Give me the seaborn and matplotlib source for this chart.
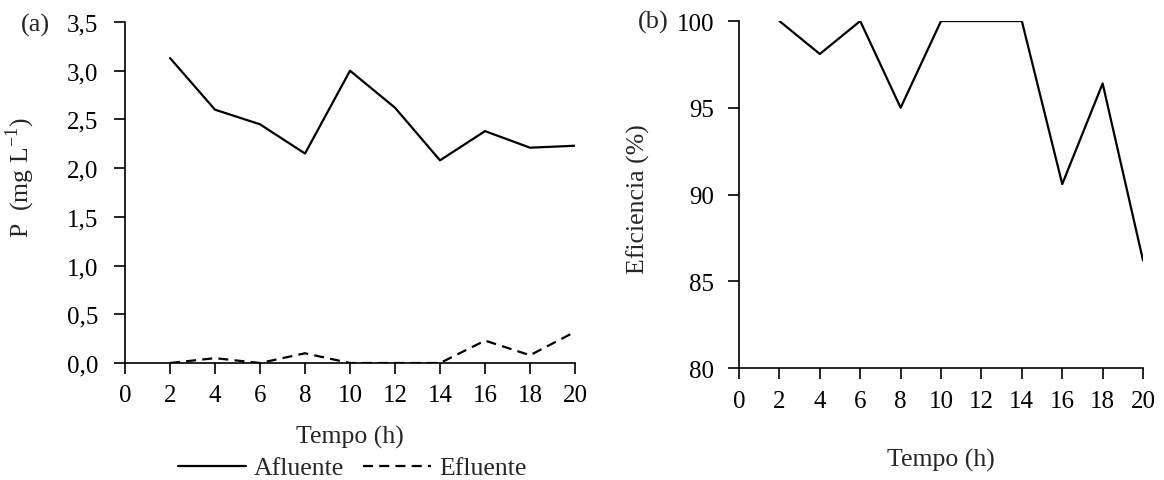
import seaborn as sns
import numpy as np
import matplotlib.pyplot as plt
from matplotlib.ticker import FuncFormatter
from matplotlib.lines import Line2D

# Data
tempo = np.array([2, 4, 6, 8, 10, 12, 14, 16, 18, 20])
afluente = np.array([3.13, 2.60, 2.45, 2.15, 3.00, 2.62, 2.08, 2.38, 2.21, 2.23])
efluente = np.array([0.00, 0.05, 0.00, 0.10, 0.00, 0.00, 0.00, 0.23, 0.08, 0.32])
eficiencia = np.array([100.0, 98.1, 100.0, 95.0, 100.0, 100.0, 100.0, 90.6, 96.4, 86.2])

sns.set_style("ticks")
plt.rcParams['font.family'] = ['Liberation Serif', 'DejaVu Serif']
plt.rcParams['mathtext.fontset'] = 'custom'
plt.rcParams['mathtext.rm'] = 'Liberation Serif'
fs = 18.5   # labels
tfs = 18    # tick labels
dash = (0, (4.5, 2.8))

fig = plt.figure(figsize=(11.64, 4.81), dpi=100)
ax1 = fig.add_axes([0.1074, 0.2432, 0.3866, 0.709])
ax2 = fig.add_axes([0.6349, 0.2328, 0.3471, 0.7214])

# (a) concentration
sns.lineplot(x=tempo, y=afluente, ax=ax1, color='black', linewidth=1.6)
sns.lineplot(x=tempo, y=efluente, ax=ax1, color='black', linewidth=1.6, linestyle=dash)
ax1.set_xlim(0, 20)
ax1.set_ylim(0, 3.5)
ax1.set_xticks(np.arange(0, 21, 2))
ax1.set_yticks(np.arange(0, 3.51, 0.5))
ax1.yaxis.set_major_formatter(FuncFormatter(lambda v, p: f"{v:.1f}".replace('.', ',')))
ax1.set_xlabel("Tempo (h)", fontsize=fs, labelpad=14)
ax1.set_ylabel("P  (mg L$^{\\mathregular{-1}}$)", fontsize=fs)
ax1.yaxis.set_label_coords(-0.196, 0.545)
ax1.tick_params(axis='x', labelsize=tfs, length=8, width=1.2, pad=7)
ax1.tick_params(axis='y', labelsize=tfs, length=8, width=1.2, pad=11)

# (b) efficiency
sns.lineplot(x=tempo, y=eficiencia, ax=ax2, color='black', linewidth=1.6)
ax2.set_xlim(0, 20)
ax2.set_ylim(80, 100)
ax2.set_xticks(np.arange(0, 21, 2))
ax2.set_yticks(np.arange(80, 101, 5))
ax2.set_xlabel("Tempo (h)", fontsize=fs, labelpad=26)
ax2.set_ylabel("Eficiencia (%)", fontsize=fs)
ax2.yaxis.set_label_coords(-0.22, 0.49)
ax2.tick_params(axis='x', labelsize=tfs, length=8, width=1.2, pad=8)
ax2.tick_params(axis='y', labelsize=tfs, length=8, width=1.2, pad=10)

for ax in (ax1, ax2):
    sns.despine(ax=ax)
    for s in ('left', 'bottom'):
        ax.spines[s].set_linewidth(1.2)
        ax.spines[s].set_color('black')
    ax.tick_params(colors='black')

fig.text(35 / 1164, 1 - 25 / 481, "(a)", fontsize=19, ha='center', va='center')
fig.text(653 / 1164, 1 - 22 / 481, "(b)", fontsize=19, ha='center', va='center')

handles = [Line2D([], [], color='black', linewidth=1.6),
           Line2D([], [], color='black', linewidth=1.6, linestyle=dash)]
fig.legend(handles, ['Afluente', 'Efluente'], loc='center', ncol=2,
           bbox_to_anchor=(352 / 1164, 1 - 469 / 481), frameon=False,
           fontsize=fs, handlelength=2.65, handletextpad=0.3, columnspacing=0.75,
           borderaxespad=0, borderpad=0)

fig.savefig("out.png", dpi=100)
